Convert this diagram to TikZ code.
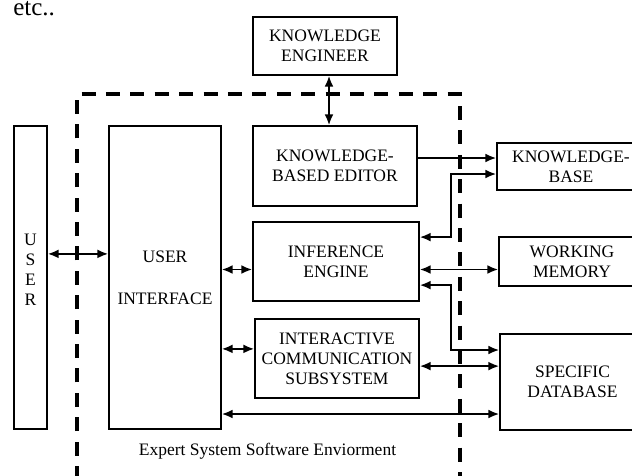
\documentclass[tikz,border=0pt]{standalone}
\usepackage{fontspec}
\setmainfont{Liberation Serif}
\usetikzlibrary{arrows.meta}
\begin{document}
\begin{tikzpicture}[x=0.025cm, y=-0.025cm,
        box/.style={draw, line width=1pt, align=center, inner sep=0pt,
            font=\fontsize{12.45}{14.23}\selectfont},
        link/.style={line width=1.4pt, >={Latex[length=2.7mm,width=2.2mm]}},
        frame/.style={line width=2.8pt, dash pattern=on 0.35cm off 0.26cm}]
        \useasboundingbox (0,0) rectangle (632,475);
        \clip (0,0) rectangle (632,475);

        % Text left over from the page above
        \node[anchor=base west, inner sep=0pt, font=\fontsize{17.8}{20}\selectfont] (etc) at (13,15) {etc..};

        % Draw the boxes
        \node[box, minimum width=3.6cm, minimum height=1.45cm] (engineer) at (325,46) {KNOWLEDGE\\ENGINEER};
        \node[box, minimum width=0.825cm, minimum height=7.575cm] (user) at (30.5,277.5) {};
        \node[box, draw=none] (userlbl) at (30.5,270) {U\\S\\E\\R};
        \node[box, minimum width=2.8cm, minimum height=7.575cm] (ui) at (165,277.5) {USER\\[0.55cm]INTERFACE};
        \node[box, minimum width=4.1cm, minimum height=2cm] (editor) at (335,166) {KNOWLEDGE-\\BASED EDITOR};
        \node[box, minimum width=4.15cm, minimum height=1.975cm] (engine) at (336,261.5) {INFERENCE\\ENGINE};
        \node[box, minimum width=4.1cm, minimum height=1.975cm] (ics) at (337,358.5) {INTERACTIVE\\COMMUNICATION\\SUBSYSTEM};
        \node[box, minimum width=3.7cm, minimum height=1.175cm] (kbase) at (571,166.5) {KNOWLEDGE-\\BASE};
        \node[box, minimum width=3.65cm, minimum height=1.225cm] (memory) at (572,261.5) {WORKING\\MEMORY};
        \node[box, minimum width=3.625cm, minimum height=2.4cm] (database) at (572.5,382) {SPECIFIC\\DATABASE};

        % Dashed border of the software environment
        \draw[frame] (77,480) -- (77,94) -- (460,94) -- (460,480);
        \node[font=\fontsize{12.45}{14.23}\selectfont] (caption) at (267.5,451) {Expert System Software Enviorment};

        % Turning points of the two bus lines
        \coordinate (kbturn) at (451,174);
        \coordinate (dbturn) at (451,350);

        % Draw the arrows between the boxes
        \draw[link, <->] ([xshift=0.1cm]engineer.south) -- ([xshift=0.1cm]engineer.south |- editor.north);
        \draw[link, <->] ([yshift=0.59cm]ui.west) -- ([yshift=0.59cm]ui.west -| user.east);
        \draw[link, <->] ([yshift=-0.2cm]engine.west) -- ([yshift=-0.2cm]engine.west -| ui.east);
        \draw[link, <->] ([yshift=0.24cm]ics.west) -- ([yshift=0.24cm]ics.west -| ui.east);
        \draw[link, <->] ([yshift=-0.8cm]database.west) -- ([yshift=-0.8cm]database.west -| ui.east);
        \draw[link, ->] ([yshift=0.2cm]editor.east) -- ([yshift=0.2cm]editor.east -| kbase.west);
        \draw[link, <->] ([yshift=0.61cm]engine.east) -| (kbturn) -- (kbturn -| kbase.west);
        \draw[link, <->] ([yshift=-0.2cm]engine.east) -- ([yshift=-0.2cm]engine.east -| memory.west);
        \draw[link, <->] ([yshift=-0.59cm]engine.east) -| (dbturn) -- (dbturn -| database.west);
        \draw[link, <->] ([yshift=-0.19cm]ics.east) -- ([yshift=-0.19cm]ics.east -| database.west);
    \end{tikzpicture}
\end{document}
